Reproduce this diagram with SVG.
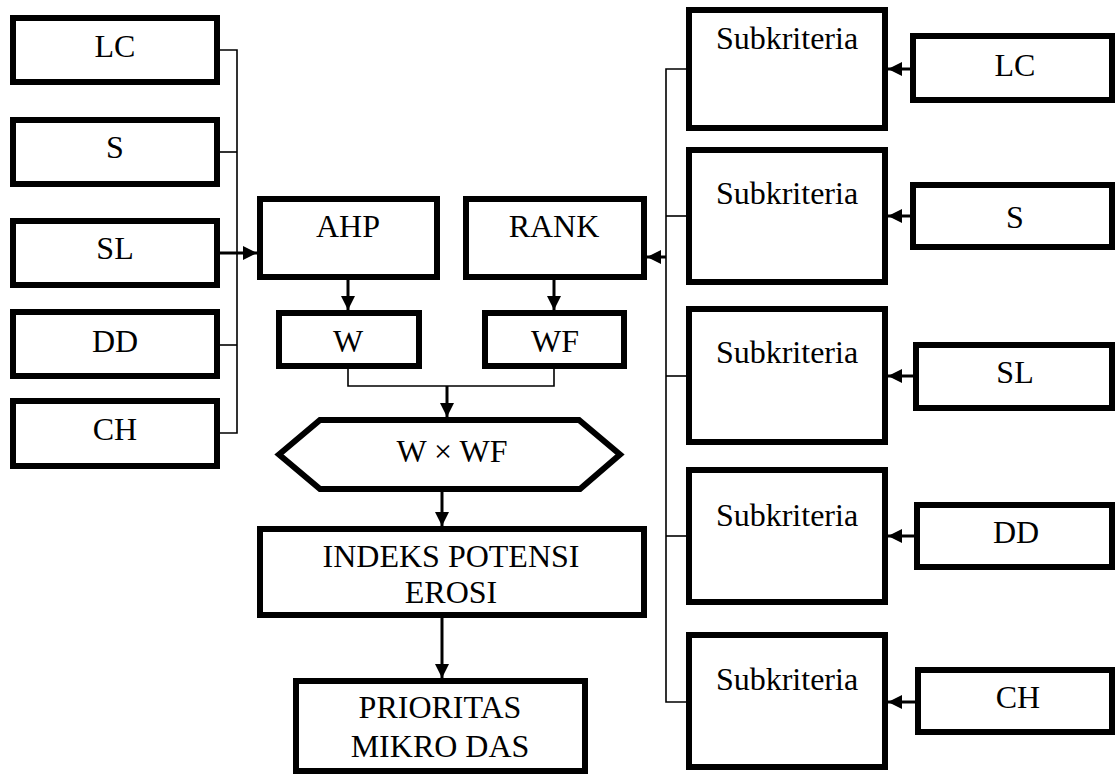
<svg xmlns="http://www.w3.org/2000/svg" width="1115" height="778" viewBox="0 0 1115 778">
<style>
.box{fill:#fff;stroke:#000;stroke-width:6}
.thin{fill:none;stroke:#000;stroke-width:1.6}
.arr{fill:none;stroke:#000;stroke-width:3;marker-end:url(#ah)}
</style>
<defs>
<marker id="ah" markerUnits="userSpaceOnUse" markerWidth="14" markerHeight="14" refX="14" refY="7" orient="auto">
<path d="M0,0 L14,7 L0,14 z" fill="#000"/>
</marker>
</defs>
<rect width="1115" height="778" fill="#fff"/>
<g id="connectors">
<polyline class="thin" points="220,50 237,50 237,433 220,433"/>
<line class="thin" x1="220" y1="152" x2="237" y2="152"/>
<line class="thin" x1="220" y1="345" x2="237" y2="345"/>
<line class="arr" x1="220" y1="253" x2="257" y2="253"/>
<line class="arr" x1="348" y1="280" x2="348" y2="310"/>
<line class="arr" x1="554" y1="280" x2="554" y2="310"/>
<polyline class="thin" points="348,369 348,386 554,386 554,369"/>
<line class="arr" x1="447" y1="386" x2="447" y2="417"/>
<line class="arr" x1="442" y1="482" x2="442" y2="526"/>
<line class="arr" x1="442" y1="618" x2="442" y2="678"/>
<polyline class="thin" points="686,69 666,69 666,702 686,702"/>
<line class="thin" x1="666" y1="216" x2="686" y2="216"/>
<line class="thin" x1="666" y1="376" x2="686" y2="376"/>
<line class="thin" x1="666" y1="536" x2="686" y2="536"/>
<line class="arr" x1="666" y1="257" x2="647" y2="257"/>
<line class="arr" x1="910" y1="69" x2="888" y2="69"/>
<line class="arr" x1="910" y1="216" x2="888" y2="216"/>
<line class="arr" x1="913" y1="376" x2="888" y2="376"/>
<line class="arr" x1="914" y1="536" x2="888" y2="536"/>
<line class="arr" x1="915" y1="702" x2="888" y2="702"/>
</g>
<g font-family="Liberation Serif, Times New Roman, serif" font-size="32" text-anchor="middle" fill="#000">
<g id="left-LC"><rect class="box" x="13" y="18" width="204" height="64"/><text x="115" y="57">LC</text></g>
<g id="left-S"><rect class="box" x="13" y="120" width="204" height="64"/><text x="115" y="158">S</text></g>
<g id="left-SL"><rect class="box" x="13" y="221" width="204" height="64"/><text x="115" y="259">SL</text></g>
<g id="left-DD"><rect class="box" x="13" y="312" width="204" height="64"/><text x="115" y="352">DD</text></g>
<g id="left-CH"><rect class="box" x="13" y="401" width="204" height="65"/><text x="115" y="440">CH</text></g>
<g id="ahp"><rect class="box" x="260" y="199" width="177" height="78"/><text x="348" y="237">AHP</text></g>
<g id="rank"><rect class="box" x="466" y="199" width="178" height="78"/><text x="554" y="237">RANK</text></g>
<g id="w"><rect class="box" x="279" y="313" width="140" height="53"/><text x="348" y="352">W</text></g>
<g id="wf"><rect class="box" x="485" y="313" width="139" height="53"/><text x="555" y="352">WF</text></g>
<g id="wxwf"><polygon class="box" points="279,454.5 320,420 579,420 620,454.5 580,489 320,489"/><text x="452" y="462">W × WF</text></g>
<g id="indeks"><rect class="box" x="260" y="529" width="384" height="86"/><text x="451" y="567">INDEKS POTENSI</text><text x="451" y="603">EROSI</text></g>
<g id="prioritas"><rect class="box" x="296" y="681" width="289" height="90"/><text x="440" y="718">PRIORITAS</text><text x="440" y="757">MIKRO DAS</text></g>
<g id="sub1"><rect class="box" x="689" y="10" width="196" height="118"/><text x="787" y="49">Subkriteria</text></g>
<g id="sub2"><rect class="box" x="689" y="150" width="196" height="132"/><text x="787" y="204">Subkriteria</text></g>
<g id="sub3"><rect class="box" x="689" y="309" width="196" height="133"/><text x="787" y="363">Subkriteria</text></g>
<g id="sub4"><rect class="box" x="689" y="470" width="196" height="132"/><text x="787" y="526">Subkriteria</text></g>
<g id="sub5"><rect class="box" x="689" y="635" width="196" height="132"/><text x="787" y="690">Subkriteria</text></g>
<g id="right-LC"><rect class="box" x="913" y="36" width="199" height="64"/><text x="1015" y="76">LC</text></g>
<g id="right-S"><rect class="box" x="913" y="185" width="199" height="62"/><text x="1015" y="228">S</text></g>
<g id="right-SL"><rect class="box" x="916" y="345" width="196" height="63"/><text x="1015" y="383">SL</text></g>
<g id="right-DD"><rect class="box" x="917" y="505" width="195" height="62"/><text x="1016" y="543">DD</text></g>
<g id="right-CH"><rect class="box" x="918" y="670" width="194" height="62"/><text x="1018" y="708">CH</text></g>
</g>
</svg>
